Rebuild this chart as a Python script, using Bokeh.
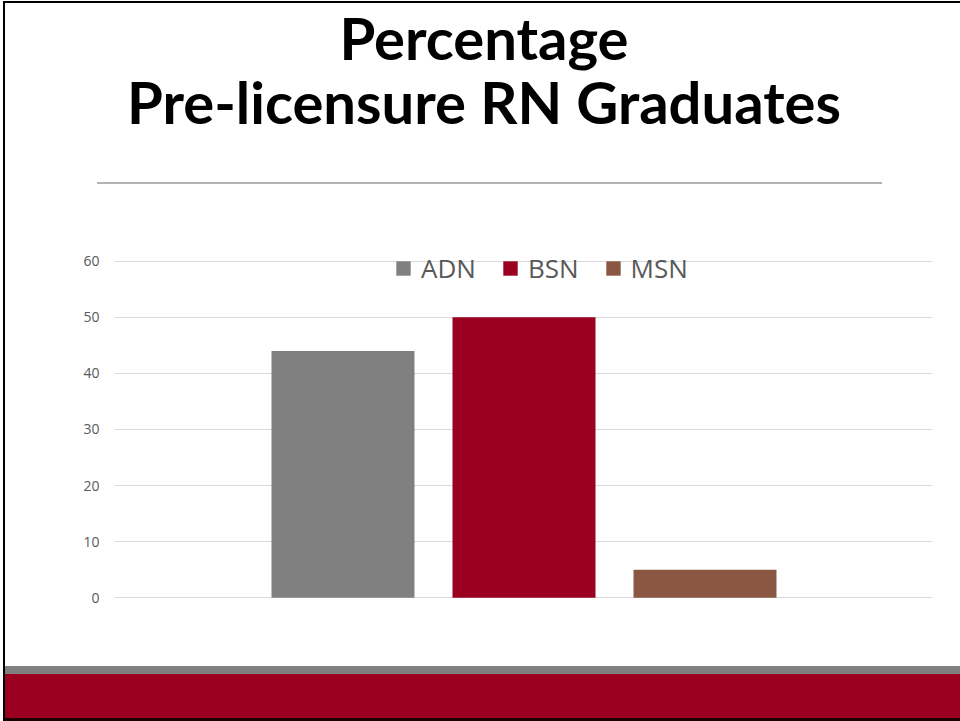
from bokeh.plotting import figure
from bokeh.models import (ColumnDataSource, Range1d, Label, Legend, LegendItem)
from bokeh.embed import file_html
from bokeh.resources import INLINE

# ---- data ----
series = ["ADN", "BSN", "MSN"]
values = [44, 50, 5]
colors = ["#808080", "#9b0020", "#8a5842"]
y_ticks = [0, 10, 20, 30, 40, 50, 60]
title_lines = ["Percentage", "Pre-licensure RN Graduates"]

source = ColumnDataSource(dict(pos=list(range(len(series))), series=series,
                               values=values, colors=colors))

p = figure(width=960, height=721, output_backend="svg", toolbar_location=None,
           x_range=Range1d(-1.2624, 3.2569),
           y_range=Range1d(-22.05, 106.47),
           x_axis_location=None, y_axis_location="left",
           min_border_left=114, min_border_right=28,
           min_border_top=0, min_border_bottom=0)
p.title.visible = False
p.outline_line_color = None
p.background_fill_color = None
p.border_fill_color = None

# slide decorations (border, title rule, bottom bands) as page background
layers = [
    ("#000000", "3px 1px", "957px 2px"),      # top border
    ("#000000", "3px 1px", "2px 720px"),      # left border
    ("#1a0000", "3px 718px", "957px 3px"),    # bottom border
    ("#808080", "5px 666px", "955px 8px"),    # grey band
    ("#9b0020", "5px 674px", "955px 44px"),   # red band
    ("#b3b3b3", "97px 182px", "785px 2px"),   # title rule
]
bg = ", ".join(f"linear-gradient({c},{c}) {pos} / {size} no-repeat" for c, pos, size in layers)
p.styles = {"background": bg + ", #ffffff"}

# page-pixel coordinate system for the title labels
p.extra_x_ranges = {"px": Range1d(114, 932)}
p.extra_y_ranges = {"px": Range1d(721, 0)}

# bars
r = p.vbar(x="pos", top="values", width=0.79, source=source,
           fill_color="colors", line_color=None)

# axis / grid
p.xgrid.visible = False
p.ygrid.ticker = y_ticks
p.ygrid.grid_line_color = "#d9d9d9"
p.ygrid.grid_line_width = 1
ax = p.yaxis[0]
ax.ticker = y_ticks
ax.axis_line_color = None
ax.major_tick_line_color = None
ax.minor_tick_line_color = None
ax.major_tick_out = 0
ax.major_tick_in = 0
ax.major_label_standoff = 15
ax.major_label_text_font = "Open Sans"
ax.major_label_text_font_size = "14px"
ax.major_label_text_color = "#595959"

# legend
legend = Legend(items=[LegendItem(label=s, renderers=[r], index=i) for i, s in enumerate(series)],
                orientation="horizontal", location=(280, 435),
                label_text_font="Open Sans", label_text_font_size="26px",
                label_text_color="#595959", glyph_width=18, glyph_height=18,
                label_standoff=9, spacing=25, padding=0, margin=0,
                border_line_color=None, background_fill_alpha=0)
p.add_layout(legend)

# title
for txt, yb in zip(title_lines, [37, 101]):
    p.add_layout(Label(x=483.5, y=yb, x_range_name="px", y_range_name="px", text=txt,
                       text_font="Lato", text_font_style="bold", text_font_size="58px",
                       text_align="center", text_baseline="alphabetic", text_color="black"))

open("out.html", "w").write(file_html(p, INLINE))
